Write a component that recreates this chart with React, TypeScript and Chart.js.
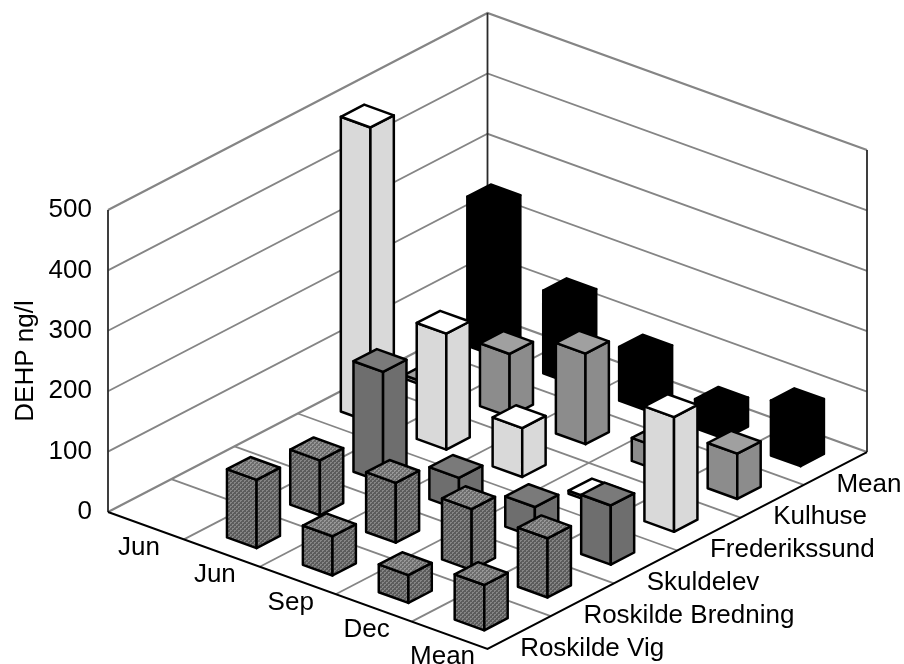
import React, { useEffect, useRef } from "react";
import { Chart, registerables } from "chart.js";

Chart.register(...registerables);

// Sampling periods run along the front-left edge, stations along the front-right edge.
const periods = ["Jun", "Jun", "Sep", "Dec", "Mean"];
const stations = ["Roskilde Vig", "Roskilde Bredning", "Skuldelev", "Frederikssund", "Kulhuse", "Mean"];

// DEHP concentration in ng/l per station; null means no sample.
const roskildeVig = [null, 113, 65, 46, 75];
const roskildeBredning = [null, 91, 99, 101, 98];
const skuldelev = [null, 183, 53, 50, 98];
const frederikssund = [488, 192, 81, 5, 190];
const kulhuse = [6, 104, 150, 38, 75];
const meanStation = [247, 137, 89, 48, 91];
const stationValues = [roskildeVig, roskildeBredning, skuldelev, frederikssund, kulhuse, meanStation];

const valueTicks = [0, 100, 200, 300, 400, 500];
const axisTop = 500;

type Shade = { side: string; top: string; stipple?: boolean };
const shades: Shade[] = [
  { side: "#7c7c7c", top: "#8a8a8a", stipple: true },
  { side: "#7c7c7c", top: "#8a8a8a", stipple: true },
  { side: "#6e6e6e", top: "#7a7a7a" },
  { side: "#d9d9d9", top: "#ffffff" },
  { side: "#8c8c8c", top: "#a0a0a0" },
  { side: "#000000", top: "#000000" },
];

const FONT = "Liberation Sans";
const GRID = "#858585";

// Oblique floor projection, expressed in axis units per column and per station.
const STATION_ALONG_X = 63.25 / 75.9;
const VALUE_PER_COLUMN = 27.4 / 0.604;
const VALUE_PER_STATION = 32.83 / 0.604;
const BAR_COL = 0.39;
const BAR_ROW = 0.37;

function project(chart: any, col: number, row: number, value: number): [number, number] {
  const x = col + row * STATION_ALONG_X;
  const y = value - col * VALUE_PER_COLUMN + row * VALUE_PER_STATION;
  return [chart.scales.x.getPixelForValue(x), chart.scales.y.getPixelForValue(y)];
}

function polyline(ctx: CanvasRenderingContext2D, pts: [number, number][], close = false) {
  ctx.beginPath();
  pts.forEach((p, i) => (i === 0 ? ctx.moveTo(p[0], p[1]) : ctx.lineTo(p[0], p[1])));
  if (close) ctx.closePath();
}

function stipple(ctx: CanvasRenderingContext2D, dark: string, light: string): CanvasPattern | string {
  const tile = document.createElement("canvas");
  tile.width = 4;
  tile.height = 4;
  const t = tile.getContext("2d");
  if (!t) return dark;
  t.fillStyle = dark;
  t.fillRect(0, 0, 4, 4);
  t.fillStyle = light;
  t.fillRect(0, 0, 2, 1);
  t.fillRect(2, 2, 2, 1);
  t.fillRect(0, 1, 1, 1);
  t.fillRect(2, 3, 1, 1);
  return ctx.createPattern(tile, "repeat") ?? dark;
}

const wallsAndFloor = {
  id: "wallsAndFloor",
  beforeDatasetsDraw(chart: any) {
    const ctx: CanvasRenderingContext2D = chart.ctx;
    const nCols = periods.length;
    const nRows = stations.length;
    ctx.save();
    ctx.lineCap = "butt";
    ctx.strokeStyle = GRID;
    ctx.lineWidth = 1.8;

    for (let c = 1; c < nCols; c++) {
      polyline(ctx, [project(chart, c, 0, 0), project(chart, c, nRows, 0)]);
      ctx.stroke();
    }
    for (let r = 1; r < nRows; r++) {
      polyline(ctx, [project(chart, 0, r, 0), project(chart, nCols, r, 0)]);
      ctx.stroke();
    }
    for (const v of valueTicks) {
      ctx.lineWidth = v === axisTop || v === 0 ? 2.2 : 1.8;
      polyline(ctx, [project(chart, 0, 0, v), project(chart, 0, nRows, v), project(chart, nCols, nRows, v)]);
      ctx.stroke();
    }

    // Upright wall edges
    ctx.strokeStyle = "#2a2a2a";
    ctx.lineWidth = 1.8;
    for (const [c, r] of [[0, 0], [0, nRows], [nCols, nRows]]) {
      polyline(ctx, [project(chart, c, r, 0), project(chart, c, r, axisTop)]);
      ctx.stroke();
    }

    // Front edges of the floor
    ctx.strokeStyle = "#000000";
    ctx.lineWidth = 2;
    polyline(ctx, [project(chart, 0, 0, 0), project(chart, nCols, 0, 0), project(chart, nCols, nRows, 0)]);
    ctx.stroke();

    // Category labels along both front edges
    ctx.fillStyle = "#000000";
    ctx.font = `26px "${FONT}"`;
    ctx.textBaseline = "middle";
    ctx.textAlign = "center";
    periods.forEach((label, c) => {
      const [x, y] = project(chart, c + 0.5, 0, 0);
      ctx.fillText(label, x - 7, y + 22);
    });
    ctx.textAlign = "left";
    stations.forEach((label, r) => {
      const [x, y] = project(chart, nCols, r + 0.5, 0);
      ctx.fillText(label, x + 1, y + 16);
    });
    ctx.restore();
  },
};

const bars3d = {
  id: "bars3d",
  afterDatasetsDraw(chart: any) {
    const ctx: CanvasRenderingContext2D = chart.ctx;
    ctx.save();
    ctx.lineJoin = "round";
    ctx.strokeStyle = "#000000";
    ctx.lineWidth = 2.5;

    // Paint from the back wall towards the viewer.
    for (let r = stations.length - 1; r >= 0; r--) {
      const shade = shades[r];
      const sideFill = shade.stipple ? stipple(ctx, "#5c5c5c", "#868686") : shade.side;
      const topFill = shade.stipple ? stipple(ctx, "#6e6e6e", "#989898") : shade.top;
      stationValues[r].forEach((value, c) => {
        if (value === null) return;
        const c0 = c + 0.5 - BAR_COL / 2;
        const c1 = c + 0.5 + BAR_COL / 2;
        const r0 = r + 0.5 - BAR_ROW / 2;
        const r1 = r + 0.5 + BAR_ROW / 2;
        const leftB = project(chart, c0, r0, 0);
        const frontB = project(chart, c1, r0, 0);
        const rightB = project(chart, c1, r1, 0);
        const leftT = project(chart, c0, r0, value);
        const frontT = project(chart, c1, r0, value);
        const rightT = project(chart, c1, r1, value);
        const backT = project(chart, c0, r1, value);

        const faces: [[number, number][], CanvasPattern | string][] = [
          [[leftT, frontT, frontB, leftB], sideFill],
          [[frontT, rightT, rightB, frontB], sideFill],
          [[leftT, backT, rightT, frontT], topFill],
        ];
        for (const [pts, fill] of faces) {
          polyline(ctx, pts, true);
          ctx.fillStyle = fill;
          ctx.fill();
          ctx.stroke();
        }
      });
    }
    ctx.restore();
  },
};

export default function App() {
  const ref = useRef<HTMLCanvasElement | null>(null);

  useEffect(() => {
    document.body.style.margin = "0";
    const canvas = ref.current;
    if (!canvas) return;
    const chart = new Chart(canvas, {
      type: "scatter",
      data: {
        labels: periods,
        datasets: stations.map((name, r) => ({
          label: name,
          data: stationValues[r].map((v, c) => ({ x: c, y: v })),
          pointRadius: 0,
          showLine: false,
        })),
      } as any,
      options: {
        responsive: false,
        animation: false,
        layout: { padding: { top: 58, left: 0, right: 0, bottom: 0 } },
        plugins: { legend: { display: false }, tooltip: { enabled: false } },
        scales: {
          x: { type: "linear", display: false, min: 0, max: 796 / 75.9 },
          y: {
            type: "linear",
            min: -152 / 0.604,
            max: 454 / 0.604,
            grid: { display: false, drawTicks: false },
            border: { display: false },
            title: {
              display: true,
              text: "DEHP ng/l",
              color: "#000000",
              font: { family: FONT, size: 26 },
              padding: { top: 10, bottom: 0 },
            },
            ticks: {
              color: "#000000",
              font: { family: FONT, size: 26 },
              padding: 16,
              stepSize: 100,
            },
            afterBuildTicks(scale: any) {
              scale.ticks = valueTicks.map((value) => ({ value }));
            },
            afterFit(scale: any) {
              scale.width = 108;
              scale.paddingTop = 0;
              scale.paddingBottom = 0;
            },
          },
        },
      } as any,
      plugins: [wallsAndFloor, bars3d],
    });
    return () => chart.destroy();
  }, []);

  return <canvas ref={ref} width={904} height={664} style={{ display: "block" }} />;
}
